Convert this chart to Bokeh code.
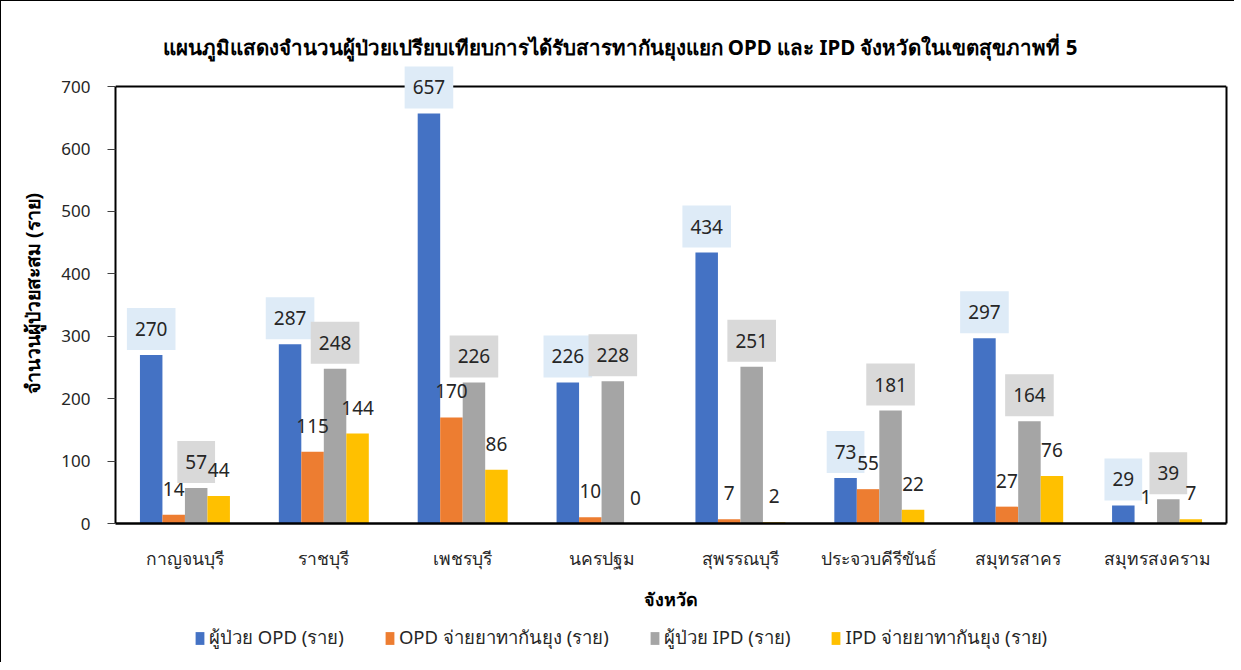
from bokeh.plotting import figure
from bokeh.layouts import column
from bokeh.models import (ColumnDataSource, FactorRange, Range1d, FixedTicker,
                          Label, Legend, LegendItem, LinearAxis)
from bokeh.transform import dodge
from bokeh.embed import file_html
from bokeh.resources import INLINE

provinces = ["กาญจนบุรี", "ราชบุรี", "เพชรบุรี", "นครปฐม", "สุพรรณบุรี",
             "ประจวบคีรีขันธ์", "สมุทรสาคร", "สมุทรสงคราม"]
opd_patients = [270, 287, 657, 226, 434, 73, 297, 29]
opd_repellent = [14, 115, 170, 10, 7, 55, 27, 1]
ipd_patients = [57, 248, 226, 228, 251, 181, 164, 39]
ipd_repellent = [44, 144, 86, 0, 2, 22, 76, 7]

series_names = ["ผู้ป่วย OPD (ราย)", "OPD จ่ายยาทากันยุง (ราย)",
                "ผู้ป่วย IPD (ราย)", "IPD จ่ายยาทากันยุง (ราย)"]
y_ticks = [0, 100, 200, 300, 400, 500, 600, 700]

title_text = "แผนภูมิแสดงจำนวนผู้ป่วยเปรียบเทียบการได้รับสารทากันยุงแยก OPD และ IPD จังหวัดในเขตสุขภาพที่ 5"
x_title = "จังหวัด"
y_title = "จำนวนผู้ป่วยสะสม (ราย)"

FONT = "Noto Sans"
colors = ["#4472C4", "#ED7D31", "#A5A5A5", "#FFC000"]
label_bg = ["#DEEBF7", None, "#D9D9D9", None]
offsets = [-0.243, -0.081, 0.081, 0.243]
bar_w = 0.162
series = [opd_patients, opd_repellent, ipd_patients, ipd_repellent]
y_min, y_max = y_ticks[0], y_ticks[-1]
headroom = 37  # extra room above the axis maximum so the top labels are not clipped

src = ColumnDataSource(dict(
    prov=provinces,
    s0=opd_patients, s1=opd_repellent, s2=ipd_patients, s3=ipd_repellent,
))

p = figure(width=1233, height=615, output_backend="svg", toolbar_location=None,
           x_range=FactorRange(*provinces, range_padding=0),
           y_range=Range1d(y_min, y_max + headroom),
           min_border_left=114, min_border_right=8, min_border_top=62,
           min_border_bottom=93, tools="")

p.title.text = title_text
p.title.text_font = FONT
p.title.text_font_size = "20.5px"
p.title.text_font_style = "bold"
p.title.text_color = "#000000"
p.title.align = "left"
p.title.offset = 47
p.title.standoff = 6

p.outline_line_color = None
p.xgrid.visible = False
p.ygrid.visible = False

p.yaxis.ticker = FixedTicker(ticks=y_ticks)
p.yaxis.bounds = (y_min, y_max)
p.yaxis.axis_line_color = "black"
p.yaxis.axis_line_width = 2
p.yaxis.major_tick_out = 8
p.yaxis.major_tick_in = 0
p.yaxis.major_tick_line_color = "#404040"
p.yaxis.minor_tick_line_color = None
p.yaxis.major_label_standoff = 17
p.yaxis.major_label_text_font = FONT
p.yaxis.major_label_text_font_size = "17px"
p.yaxis.major_label_text_color = "#262626"
p.yaxis.axis_label = y_title
p.yaxis.axis_label_text_font = FONT
p.yaxis.axis_label_text_font_size = "19.5px"
p.yaxis.axis_label_text_font_style = "bold"
p.yaxis.axis_label_text_color = "#000000"
p.yaxis.axis_label_standoff = 12

right_axis = LinearAxis(ticker=FixedTicker(ticks=[]), bounds=(y_min, y_max),
                        axis_line_color="black", axis_line_width=2,
                        major_tick_line_color=None, minor_tick_line_color=None,
                        major_tick_out=0, major_label_standoff=0)
p.add_layout(right_axis, "right")

p.xaxis.axis_line_color = "black"
p.xaxis.axis_line_width = 2.5
p.xaxis.major_tick_line_color = None
p.xaxis.minor_tick_line_color = None
p.xaxis.major_label_standoff = 16
p.xaxis.major_label_text_font = FONT
p.xaxis.major_label_text_font_size = "17.5px"
p.xaxis.major_label_text_color = "#262626"
p.xaxis.axis_label = x_title
p.xaxis.axis_label_text_font = FONT
p.xaxis.axis_label_text_font_size = "18px"
p.xaxis.axis_label_text_font_style = "bold"
p.xaxis.axis_label_text_color = "#000000"
p.xaxis.axis_label_standoff = 14

# top edge of the plot area at the axis maximum
p.hspan(y=[y_max], line_color="black", line_width=2)

for i in range(4):
    p.vbar(x=dodge("prov", offsets[i], range=p.x_range), top=f"s{i}",
           width=bar_w, source=src, fill_color=colors[i], line_color=None)
    for j, v in enumerate(series[i]):
        kw = {}
        if label_bg[i]:
            kw = dict(background_fill_color=label_bg[i], padding=(8, 14))
        p.add_layout(Label(x=j + 0.5 + offsets[i], y=v, text=str(v), y_offset=26,
                           text_align="center", text_baseline="middle",
                           text_font=FONT, text_font_size="19px",
                           text_color="#262626", level="overlay", **kw))

# legend strip below the chart (frame aligned with the chart's frame)
lg = figure(width=1233, height=46, output_backend="svg", toolbar_location=None,
            x_range=Range1d(0, 1), y_range=Range1d(0, 1),
            x_axis_type=None, y_axis_type=None, tools="",
            min_border_left=0, min_border_right=0, min_border_top=0,
            min_border_bottom=0)
lg.outline_line_color = None
lg.xgrid.visible = False
lg.ygrid.visible = False
items = []
for i in range(4):
    r = lg.vbar(x=[-5], top=[-5], width=0.1, fill_color=colors[i], line_color=None)
    items.append(LegendItem(label=series_names[i], renderers=[r]))
legend = Legend(items=items, orientation="horizontal", location=(79, 10),
                border_line_color=None, background_fill_alpha=0,
                label_text_font=FONT, label_text_font_size="18.5px",
                label_text_color="#262626", glyph_width=11, glyph_height=16,
                label_standoff=4, spacing=40, padding=0, margin=0)
lg.add_layout(legend, "center")

layout = column(p, lg, spacing=0)
layout.styles = {"border-left": "1.5px solid black", "border-top": "1.5px solid black"}

open("out.html", "w").write(file_html(layout, INLINE))
